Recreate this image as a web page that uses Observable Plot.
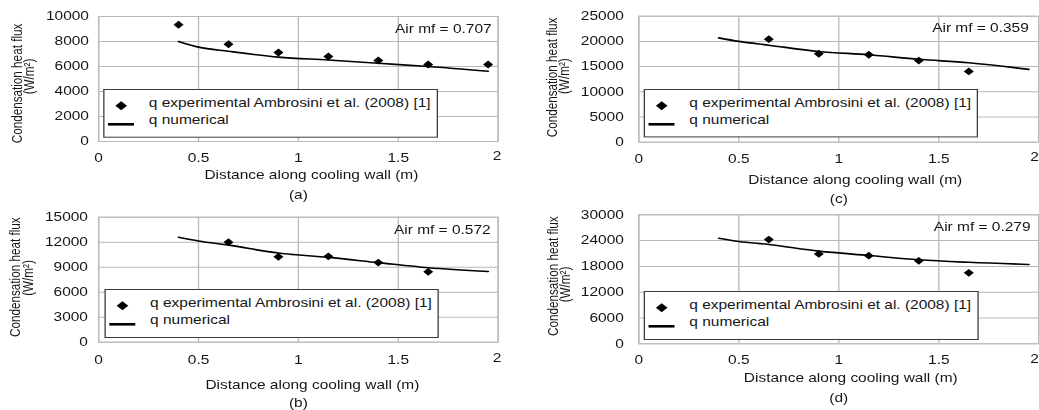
<!DOCTYPE html>
<html>
<head>
<meta charset="utf-8">
<script src="https://cdn.jsdelivr.net/npm/d3@7"></script>
<script src="https://cdn.jsdelivr.net/npm/@observablehq/plot@0.6"></script>
<style>
  html, body { margin: 0; padding: 0; background: #fff; overflow: hidden; }
  #figure {
    position: relative; height: 410px;
    transform-origin: 0 0;
    font-family: "Liberation Sans", Arial, sans-serif;
  }
  .panel { position: absolute; }
  .legend { position: absolute; }
</style>
</head>
<body>
<div id="figure"></div>
<script>
// Condensation heat flux along the cooling wall for four air mass fractions.
const xTicks = [0, 0.5, 1, 1.5, 2];

// numerical solution (continuous curve)
const xNumerical = [0.4, 0.5, 0.65, 0.9, 1.15, 1.4, 1.65, 1.95];
const qNumA = [8000, 7550, 7220, 6750, 6520, 6260, 6000, 5620];
const qNumB = [12600, 12150, 11650, 10700, 10180, 9550, 8930, 8480];
const qNumC = [20700, 20000, 19250, 18000, 17350, 16450, 15750, 14450];
const qNumD = [24550, 23800, 23100, 21550, 20550, 19550, 18950, 18450];

// experimental points, Ambrosini et al. (2008)
const xExpA = [0.4, 0.65, 0.9, 1.15, 1.4, 1.65, 1.95];
const xExp = [0.65, 0.9, 1.15, 1.4, 1.65];
const qExpA = [9340, 7780, 7120, 6800, 6480, 6160, 6160];
const qExpB = [12000, 10250, 10300, 9550, 8450];
const qExpC = [20450, 17550, 17350, 16200, 14050];
const qExpD = [24250, 20900, 20500, 19300, 16500];

// y tick values per panel
const yTicksA = [0, 2000, 4000, 6000, 8000, 10000];
const yTicksB = [0, 3000, 6000, 9000, 12000, 15000];
const yTicksC = [0, 5000, 10000, 15000, 20000, 25000];
const yTicksD = [0, 6000, 12000, 18000, 24000, 30000];

const airMf = ["0.707", "0.572", "0.359", "0.279"];
const panelTags = ["(a)", "(b)", "(c)", "(d)"];
const xTitle = "Distance along cooling wall (m)";
const yTitle1 = "Condensation heat flux";
const yTitle2 = "(W/m²)";
const legendExp = "q experimental Ambrosini et al. (2008) [1]";
const legendNum = "q numerical";

// The figure is laid out at a base width and stretched horizontally.
const S = 1.29;
const W = 1039;
const px = v => v / S;
const FONT = "'Liberation Sans', Arial, sans-serif";
const INK = "#161616";
const GRID = "#b9b9b9";

const figure = document.getElementById("figure");
figure.style.width = px(W) + "px";
figure.style.transform = `scaleX(${S})`;

const panels = [
  {tag: panelTags[0], mf: airMf[0], xExp: xExpA, qExp: qExpA, qNum: qNumA, yTicks: yTicksA,
   left: 0, top: 0, w: 520, ml: 98, mr: 22.5, mt: 16, mb: 64, lastDx: -1,
   padX: 11.7, padY: 9.7, mfDx: -6.5, mfDy: 12.3, tDx: 13, tDy: 33.3, cDy: 53.3,
   y1Dx: -81.3, y1Dy: 4.5, y2Dx: -69.7, y2Dy: -2.5,
   lg: [103.5, 89, 438.3, 137.7]},
  {tag: panelTags[1], mf: airMf[1], xExp: xExp, qExp: qExpB, qNum: qNumB, yTicks: yTicksB,
   left: 0, top: 205, w: 520, ml: 98, mr: 22.5, mt: 11.7, mb: 68.3, lastDx: -1,
   padX: 13, padY: 10.7, mfDx: -7.5, mfDy: 13.3, tDx: 14, tDy: 43.3, cDy: 61.3,
   y1Dx: -83, y1Dy: -2.5, y2Dx: -70.7, y2Dy: -1.7,
   lg: [104, 289.3, 438.3, 338.3]},
  {tag: panelTags[2], mf: airMf[2], xExp: xExp, qExp: qExpC, qNum: qNumC, yTicks: yTicksC,
   left: 520, top: 0, w: 519, ml: 118.3, mr: 0.7, mt: 15.7, mb: 63.3, lastDx: -4.3,
   padX: 12, padY: 15, mfDx: -10, mfDy: 11.6, tDx: 16.4, tDy: 38.3, cDy: 57.3,
   y1Dx: -86.6, y1Dy: -1.7, y2Dx: -75, y2Dy: -3,
   lg: [644, 89.3, 978.3, 137.7]},
  {tag: panelTags[3], mf: airMf[3], xExp: xExp, qExp: qExpD, qNum: qNumD, yTicks: yTicksD,
   left: 520, top: 205, w: 519, ml: 118.3, mr: 0.7, mt: 9.3, mb: 66.7, lastDx: -4.3,
   padX: 11.7, padY: 15, mfDx: -8.3, mfDy: 12.4, tDx: 12, tDy: 34.7, cDy: 54.7,
   y1Dx: -85.6, y1Dy: -3.1, y2Dx: -73.3, y2Dy: 5.2,
   lg: [643.3, 291, 978.3, 340]}
];

for (const p of panels) {
  const numerical = xNumerical.map((x, i) => ({x, q: p.qNum[i]}));
  const experimental = p.xExp.map((x, i) => ({x, q: p.qExp[i]}));
  const yMax = p.yTicks[p.yTicks.length - 1];
  const innerTicks = xTicks.slice(0, -1);
  const endTick = xTicks.slice(-1);

  const chart = Plot.plot({
    width: px(p.w), height: 205,
    marginLeft: px(p.ml), marginRight: px(p.mr), marginTop: p.mt, marginBottom: p.mb,
    style: {fontFamily: FONT, fontSize: "12px", color: INK, background: "transparent", overflow: "visible"},
    x: {domain: [0, 2]},
    y: {domain: [0, yMax]},
    marks: [
      Plot.gridX(xTicks, {stroke: GRID, strokeOpacity: 1, strokeWidth: 1}),
      Plot.gridY(p.yTicks, {stroke: GRID, strokeOpacity: 1, strokeWidth: 1}),
      Plot.frame({stroke: GRID, strokeWidth: 1}),
      Plot.axisX(innerTicks, {tickSize: 0, tickPadding: p.padX, tickFormat: d => `${d}`, label: null, fill: INK}),
      // the last label sits a little inside the right edge
      Plot.axisX(endTick, {tickSize: 0, tickPadding: p.padX - 1.5, tickFormat: d => `${d}`, label: null,
        fill: INK, dx: px(p.lastDx)}),
      Plot.axisY(p.yTicks, {tickSize: 0, tickPadding: px(p.padY), tickFormat: d => `${d}`, label: null, fill: INK}),
      Plot.line(numerical, {x: "x", y: "q", curve: "monotone-x", stroke: "#000", strokeWidth: 1.6}),
      Plot.dot(experimental, {x: "x", y: "q", symbol: "diamond2", r: 3.5, fill: "#000", stroke: "none"}),
      Plot.text([`Air mf = ${p.mf}`], {frameAnchor: "top-right", textAnchor: "end", lineAnchor: "middle",
        dx: px(p.mfDx), dy: p.mfDy, fill: INK}),
      Plot.text([xTitle], {frameAnchor: "bottom", textAnchor: "middle", lineAnchor: "middle",
        dx: px(p.tDx), dy: p.tDy, fill: INK}),
      Plot.text([p.tag], {frameAnchor: "bottom", textAnchor: "middle", lineAnchor: "middle",
        dy: p.cDy, fill: INK}),
      Plot.text([yTitle1], {frameAnchor: "left", rotate: -90, textAnchor: "middle", lineAnchor: "middle",
        dx: px(p.y1Dx), dy: p.y1Dy, fontSize: 11.7, fill: INK}),
      Plot.text([yTitle2], {frameAnchor: "left", rotate: -90, textAnchor: "middle", lineAnchor: "middle",
        dx: px(p.y2Dx), dy: p.y2Dy, fontSize: 11.7, fill: INK})
    ]
  });

  const holder = document.createElement("div");
  holder.className = "panel";
  holder.style.left = px(p.left) + "px";
  holder.style.top = p.top + "px";
  holder.style.width = px(p.w) + "px";
  holder.appendChild(chart);
  figure.appendChild(holder);

  // legend box drawn over the lower-left part of the plot area
  const [l, t, r, b] = p.lg;
  const lw = px(r - l), lh = b - t;
  const legend = document.createElement("div");
  legend.className = "legend";
  legend.style.left = px(l) + "px";
  legend.style.top = t + "px";
  legend.innerHTML = `
    <svg width="${lw}" height="${lh}" style="display:block;overflow:visible;font-family:${FONT};font-size:12px">
      <rect x="0.5" y="0.5" width="${lw - 1}" height="${lh - 1}" fill="#fff" stroke="#3c3c3c" stroke-width="1"/>
      <path d="M${px(18)},${16.8 - 4.5}l4.5,4.5l-4.5,4.5l-4.5,-4.5z" fill="#000"/>
      <line x1="${px(4.8)}" x2="${px(30.8)}" y1="35.3" y2="35.3" stroke="#000" stroke-width="2.6"/>
      <text x="${px(45.6)}" y="13.6" dy="0.35em" fill="${INK}">${legendExp}</text>
      <text x="${px(45.6)}" y="31.2" dy="0.35em" fill="${INK}">${legendNum}</text>
    </svg>`;
  figure.appendChild(legend);
}
</script>
</body>
</html>
